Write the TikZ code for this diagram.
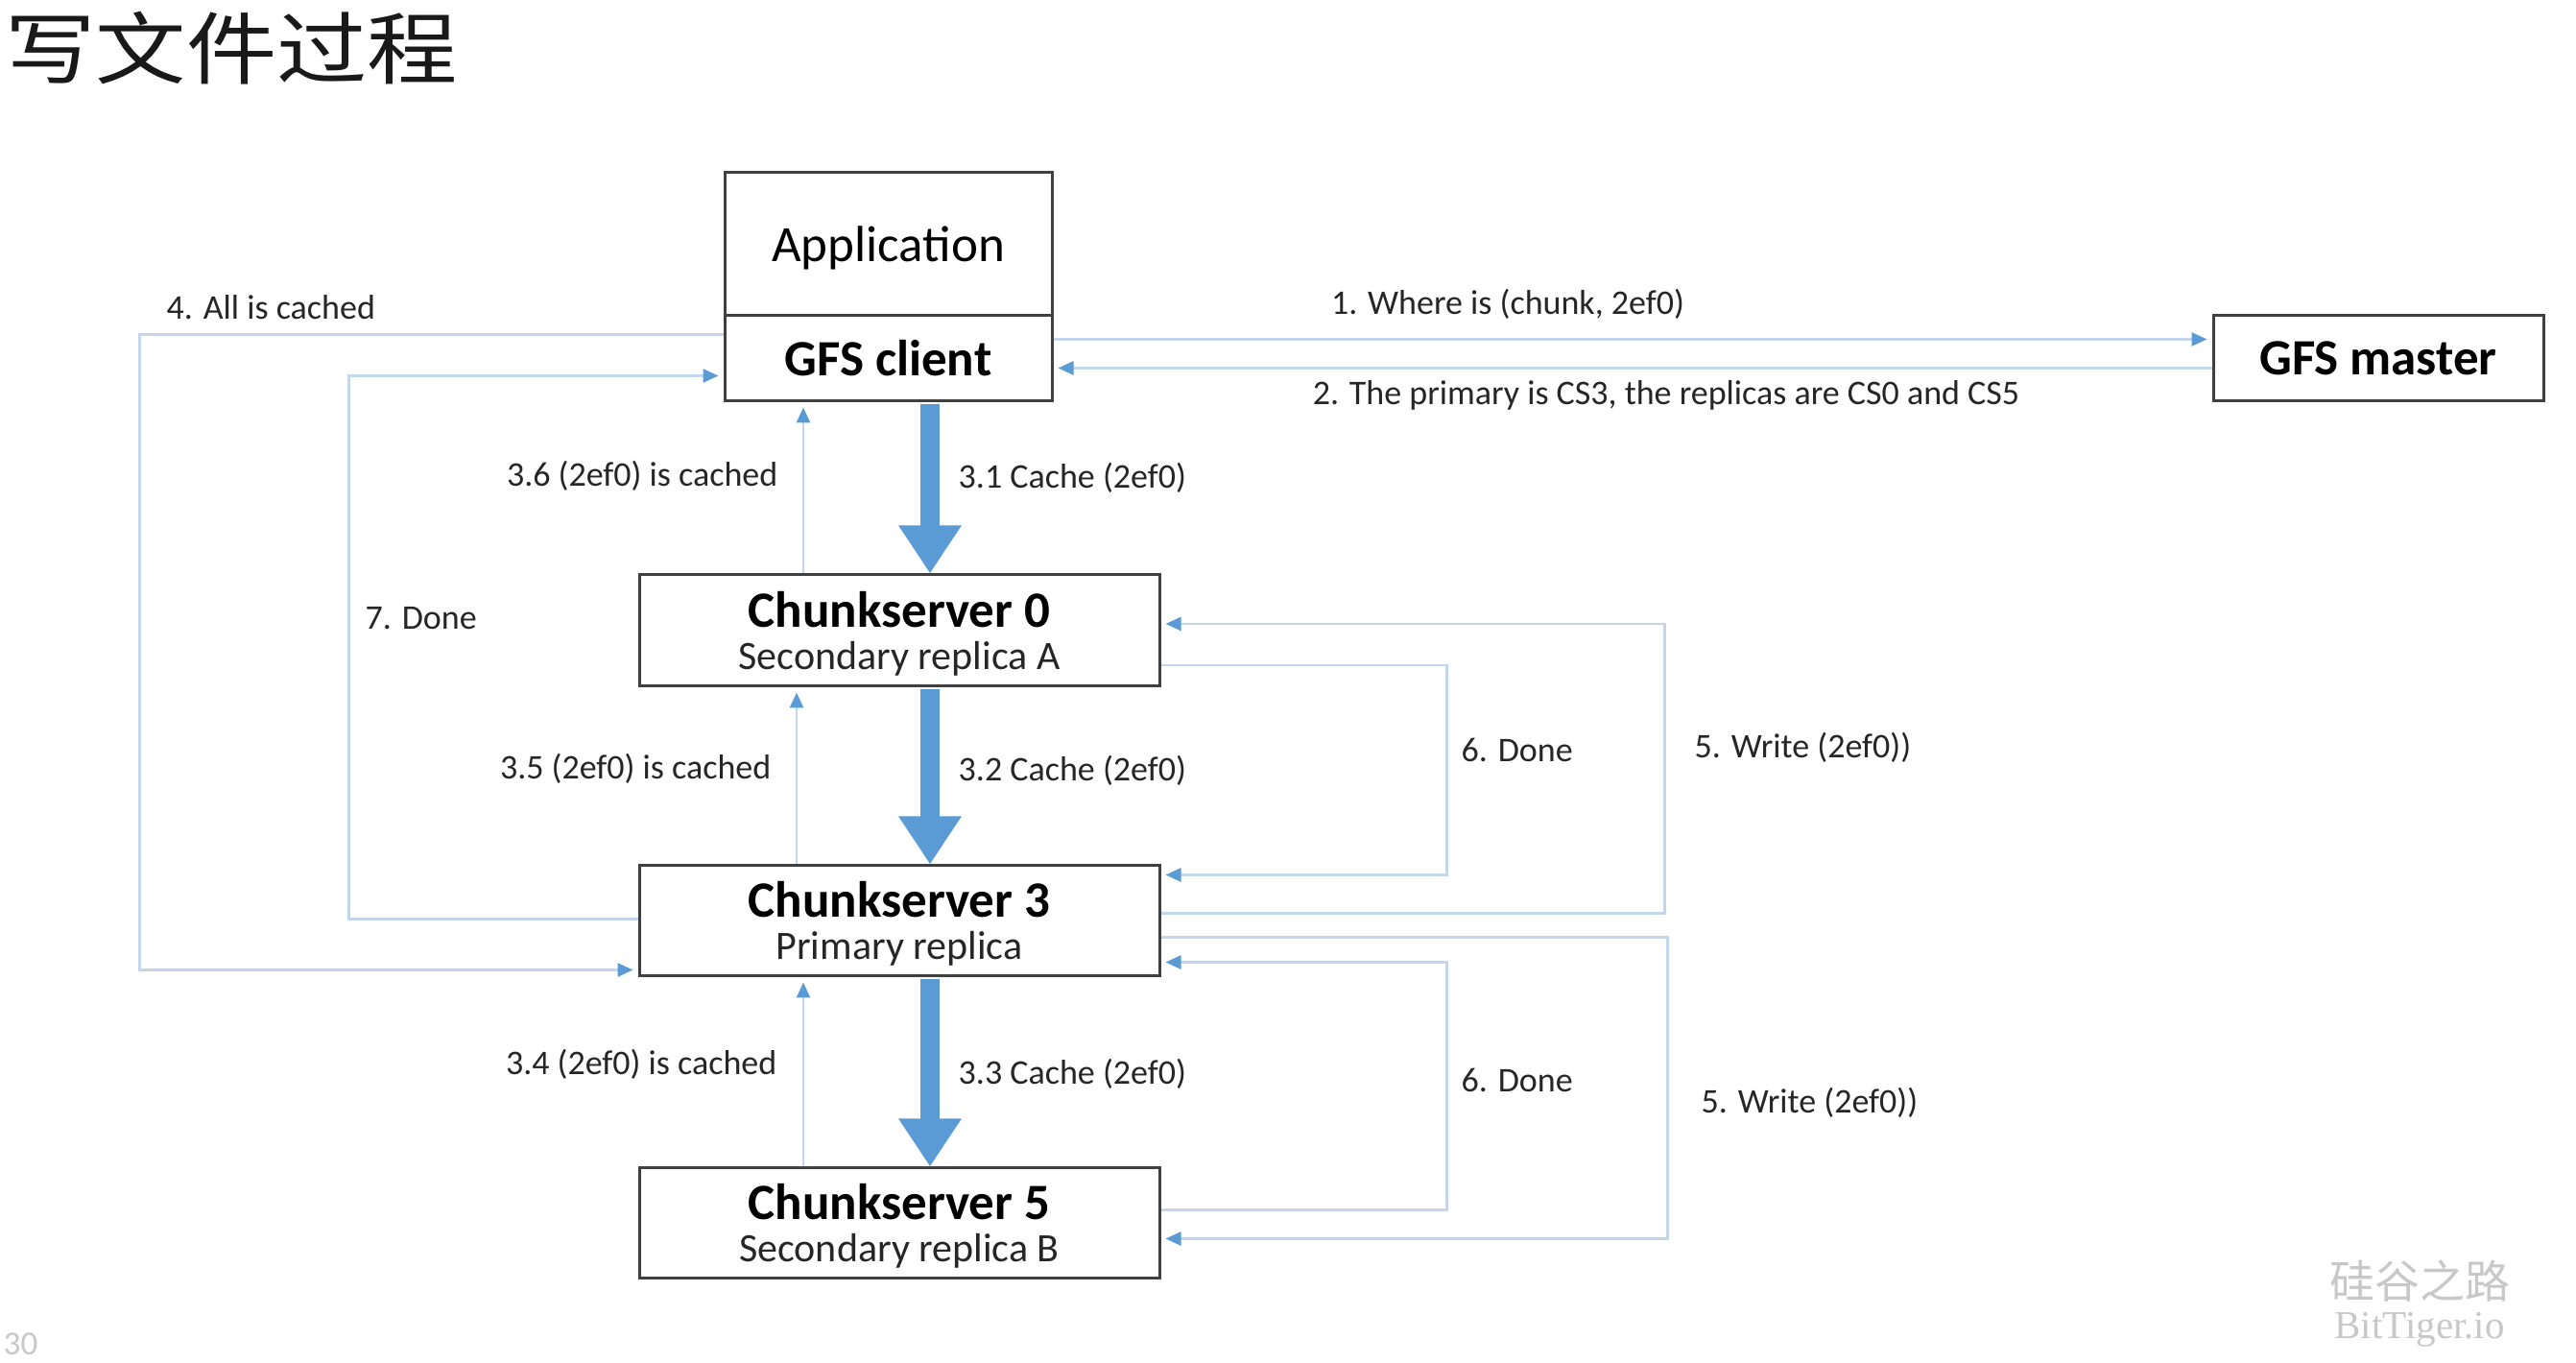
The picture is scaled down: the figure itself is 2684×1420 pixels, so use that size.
\documentclass[tikz,border=0pt]{standalone}
\usepackage{fontspec}
\setmainfont{Carlito}
\newfontfamily\cjk{Noto Sans CJK SC}
\newfontfamily\serifwm{Liberation Serif}
\usetikzlibrary{arrows.meta,calc}
\definecolor{flowline}{RGB}{196,214,238}
\definecolor{flowtip}{RGB}{91,155,213}
\definecolor{boxline}{RGB}{64,64,64}
\definecolor{labeltext}{RGB}{38,38,38}
\definecolor{wmgray}{RGB}{200,200,200}

\begin{document}
\begin{tikzpicture}[x=0.1mm,y=-0.1mm,
  box/.style={draw=boxline,line width=0.3mm,rectangle,inner sep=0pt,fill=white},
  boxtitle/.style={font=\fontsize{15.08pt}{18pt}\selectfont\bfseries,inner sep=0pt},
  boxplain/.style={font=\fontsize{15.08pt}{18pt}\selectfont,inner sep=0pt},
  boxsub/.style={font=\fontsize{11.95pt}{14pt}\selectfont,inner sep=0pt,text=labeltext},
  lbl/.style={font=\fontsize{10.24pt}{12pt}\selectfont,text=labeltext,inner sep=0pt},
  flow/.style={draw=flowline,line width=0.25mm,-{Triangle[length=1.6mm,width=1.4mm,color=flowtip]},shorten >=0.5mm},
  bulk/.style={draw=flowtip,line width=2mm,-{Triangle[length=5mm,width=6.2mm]},shorten <=0.2mm},
]
\useasboundingbox[fill=white] (0,0) rectangle (2684,1420);

% title, set a little wide
\node[font=\cjk\fontsize{23.33pt}{28pt}\selectfont,anchor=west,inner sep=0pt,text=black!90] (title) at (5,50) {\scalebox{1.15}[1]{写文件过程}};

% application stack and master
\node[box,boxplain,minimum width=34.1mm,minimum height=14.9mm,text depth=0pt] (app) at (925.5,254.5) {Application};
\node[box,boxtitle,minimum width=34.1mm,minimum height=8.9mm] (client) at (925.5,373.5) {GFS client};
\node[box,boxtitle,minimum width=34.4mm,minimum height=8.9mm] (master) at (2478,373.5) {GFS master};

% chunkservers
\node[box,minimum width=54.2mm,minimum height=11.6mm] (cs0) at (937,657) {};
\node[boxtitle] (cs0t) at ($(cs0.center)+(0,-22)$) {Chunkserver 0};
\node[boxsub] (cs0s) at ($(cs0.center)+(0,29)$) {Secondary replica A};

\node[box,minimum width=54.2mm,minimum height=11.5mm] (cs3) at (937,959.5) {};
\node[boxtitle] (cs3t) at ($(cs3.center)+(0,-22)$) {Chunkserver 3};
\node[boxsub] (cs3s) at ($(cs3.center)+(0,29)$) {Primary replica};

\node[box,minimum width=54.2mm,minimum height=11.5mm] (cs5) at (937,1274.5) {};
\node[boxtitle] (cs5t) at ($(cs5.center)+(0,-22)$) {Chunkserver 5};
\node[boxsub] (cs5s) at ($(cs5.center)+(0,29)$) {Secondary replica B};

% client <-> master
\draw[flow] ($(client.east)+(0,-20)$) -- ($(master.west)+(0,-20)$);
\draw[flow] ($(master.west)+(0,10)$) -- ($(client.east)+(0,10)$);
\node[lbl] (l1) at (1571,317) {1. Where is (chunk, 2ef0)};
\node[lbl] (l2) at (1736,412) {2. The primary is CS3, the replicas are CS0 and CS5};

% data pushed down the chain
\coordinate (b1) at ($(cs0.north)+(32,0)$);
\coordinate (b2) at ($(cs3.north)+(32,0)$);
\coordinate (b3) at ($(cs5.north)+(32,0)$);
\draw[bulk] (client.south -| b1) -- (b1);
\draw[bulk] (cs0.south -| b2) -- (b2);
\draw[bulk] (cs3.south -| b3) -- (b3);
\node[lbl,anchor=west] (l31) at (998,498) {3.1 Cache (2ef0)};
\node[lbl,anchor=west] (l32) at (998,803) {3.2 Cache (2ef0)};
\node[lbl,anchor=west] (l33) at (998,1119) {3.3 Cache (2ef0)};

% acknowledgements back up the chain
\coordinate (c6) at ($(cs0.north)+(-100,0)$);
\coordinate (c5) at ($(cs3.north)+(-107,0)$);
\coordinate (c4) at ($(cs5.north)+(-100,0)$);
\draw[flow] (c6) -- (c6 |- client.south);
\draw[flow] (c5) -- (c5 |- cs0.south);
\draw[flow] (c4) -- (c4 |- cs3.south);
\node[lbl,anchor=east] (l36) at (811,496) {3.6 (2ef0) is cached};
\node[lbl,anchor=east] (l35) at (804,801) {3.5 (2ef0) is cached};
\node[lbl,anchor=east] (l34) at (810,1109) {3.4 (2ef0) is cached};

% client to primary, primary to client
\draw[flow] ($(client.west)+(0,-25)$) -- ++(-608,0) |- ($(cs3.west)+(0,51)$);
\draw[flow] ($(cs3.west)+(0,-2)$) -- ++(-301,0) |- ($(client.west)+(0,18)$);
\node[lbl,anchor=west] (l4) at (173,320) {4. All is cached};
\node[lbl,anchor=west] (l7) at (380,644) {7. Done};

% primary to secondaries and their replies
\draw[flow] ($(cs3.east)+(0,-8)$) -- ++(525,0) |- ($(cs0.east)+(0,-7)$);
\draw[flow] ($(cs0.east)+(0,36)$) -- ++(298,0) |- ($(cs3.east)+(0,-48)$);
\draw[flow] ($(cs3.east)+(0,17)$) -- ++(528,0) |- ($(cs5.east)+(0,16)$);
\draw[flow] ($(cs5.east)+(0,-14)$) -- ++(298,0) |- ($(cs3.east)+(0,43)$);
\node[lbl,anchor=west] (l6a) at (1522,781) {6. Done};
\node[lbl,anchor=west] (l5a) at (1765,779) {5. Write (2ef0))};
\node[lbl,anchor=west] (l6b) at (1522,1125) {6. Done};
\node[lbl,anchor=west] (l5b) at (1772,1149) {5. Write (2ef0))};

% footer
\node[font=\cjk\fontsize{13.37pt}{16pt}\selectfont,text=wmgray,inner sep=0pt] (wm1) at (2521,1335) {硅谷之路};
\node[font=\serifwm\fontsize{11.67pt}{14pt}\selectfont,text=wmgray,inner sep=0pt] (wm2) at (2521,1385) {BitTiger.io};
\node[font=\fontsize{10pt}{12pt}\selectfont,text=wmgray,anchor=west,inner sep=0pt] (pg) at (3,1400) {30};
\end{tikzpicture}
\end{document}
